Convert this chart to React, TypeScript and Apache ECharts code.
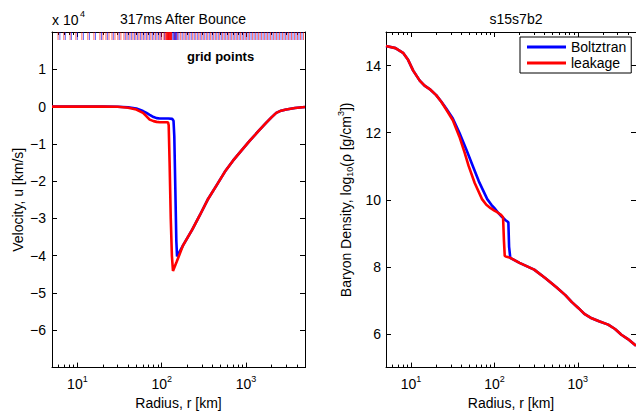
import React, { useEffect, useRef } from "react";
import * as echarts from "echarts";

const FONT = "'Liberation Sans', Arial, Helvetica, sans-serif";

// ---------- data ----------
// Left panel: velocity (units of 10^4 km/s) vs radius (km)
const velRadiusBlue = [5, 10, 20, 30, 40, 50, 60, 66, 72, 80, 87, 95, 105, 120, 133, 138, 141, 145, 149, 152, 165, 179, 230, 282, 350, 445, 560, 700, 880, 1102, 1400, 1738, 2000, 2280, 2600, 2997, 3800, 5000];
const velBlue = [0, 0, 0, -0.005, -0.02, -0.05, -0.12, -0.17, -0.22, -0.28, -0.31, -0.32, -0.32, -0.32, -0.33, -0.38, -0.8, -2.2, -3.6, -4.02, -3.87, -3.72, -3.3, -2.92, -2.5, -2.12, -1.75, -1.45, -1.18, -0.92, -0.66, -0.43, -0.29, -0.17, -0.11, -0.08, -0.04, -0.01];
const velRadiusRed = [5, 10, 20, 30, 40, 50, 60, 66, 72, 80, 87, 95, 105, 115, 119, 121, 124, 128, 132, 136, 150, 165, 179, 230, 282, 350, 445, 560, 700, 880, 1102, 1400, 1738, 2000, 2280, 2600, 2997, 3800, 5000];
const velRed = [0, 0, 0, -0.005, -0.03, -0.08, -0.17, -0.26, -0.35, -0.39, -0.41, -0.42, -0.42, -0.42, -0.43, -0.5, -1.5, -3.0, -4.0, -4.41, -4.17, -3.93, -3.72, -3.3, -2.92, -2.5, -2.12, -1.75, -1.45, -1.18, -0.92, -0.66, -0.43, -0.29, -0.17, -0.11, -0.08, -0.04, -0.01];

// grid point radii (km)
const gridPointsBlue = [6.2, 7.2, 8.5, 10.0, 11.8, 13.9, 16.4, 19.3, 22.7, 26.7, 31.4, 37, 40, 43.6, 47.4, 51.4, 55.8, 60.5, 65.7, 71.3, 77.4, 84, 91, 98, 108, 120, 132, 136, 139, 141, 143, 145, 147, 149, 152, 160, 175, 190, 206, 224, 243, 264, 286, 310, 337, 366, 397, 431, 468, 508, 550, 597, 648, 703, 763, 828, 899, 975, 1058, 1148, 1246, 1352, 1467, 1592, 1727, 1874, 2034, 2207, 2394, 2598, 2820, 3060, 3320, 3600, 3910, 4240, 4600];
const gridPointsRed = [5.9, 6.9, 8.2, 9.6, 11.3, 13.3, 15.7, 18.5, 20.1, 21.8, 23.7, 25.7, 27.9, 30.2, 32.8, 35.6, 38.6, 41.9, 45.5, 49.3, 53.6, 58.1, 63.1, 68.4, 74.3, 80.6, 87.5, 94.9, 100, 106, 110, 112, 114, 115, 116, 117, 118, 119, 120, 121, 122, 123, 124, 125, 126, 127, 128, 129, 130, 131, 143, 155, 168, 183, 198, 215, 233, 253, 275, 298, 323, 351, 381, 413, 449, 487, 528, 573, 622, 675, 733, 795, 863, 936, 1016, 1102, 1196, 1298, 1409, 1528, 1660, 1800, 1954, 2120, 2300, 2495, 2710, 2940, 3190, 3460, 3760, 4075, 4425, 4800];

// Right panel: log10 density vs radius (km)
const denRadiusBlue = [5, 6.5, 8, 9.2, 10.6, 12.7, 14.5, 16.7, 20, 23, 26.4, 31.7, 38, 46, 55, 65, 82, 92, 100, 112, 122, 135, 147, 150, 155, 200, 300, 410, 550, 710, 850, 1023, 1200, 1470, 1800, 2320, 2800, 3340, 4000, 5000];
const denBlue = [14.58, 14.52, 14.38, 14.17, 13.85, 13.55, 13.4, 13.3, 13.12, 12.93, 12.72, 12.42, 12.0, 11.5, 11.01, 10.55, 10.02, 9.85, 9.75, 9.6, 9.5, 9.4, 9.33, 8.6, 8.27, 8.12, 7.92, 7.66, 7.4, 7.16, 6.95, 6.77, 6.6, 6.47, 6.38, 6.28, 6.15, 5.98, 5.85, 5.65];
const denRadiusRed = [5, 6.5, 8, 9.2, 10.6, 12.7, 14.5, 16.7, 20, 23, 26.4, 31.7, 38, 44, 49, 58, 71, 80, 90, 100, 108, 120, 127, 130, 133, 140, 155, 200, 300, 410, 550, 710, 850, 1023, 1200, 1470, 1800, 2320, 2800, 3340, 4000, 5000];
const denRed = [14.58, 14.52, 14.38, 14.17, 13.85, 13.55, 13.4, 13.3, 13.12, 12.92, 12.69, 12.37, 11.88, 11.4, 11.01, 10.5, 10.02, 9.85, 9.75, 9.68, 9.63, 9.55, 9.48, 8.8, 8.33, 8.3, 8.27, 8.12, 7.92, 7.66, 7.4, 7.16, 6.95, 6.77, 6.6, 6.47, 6.38, 6.28, 6.15, 5.98, 5.85, 5.65];

// axis ticks
const xMajorTicks = [10, 100, 1000];
const xMinorTicks = [6, 7, 8, 9, 20, 30, 40, 50, 60, 70, 80, 90, 200, 300, 400, 500, 600, 700, 800, 900, 2000, 3000, 4000];
const densityTicks = [6, 8, 10, 12, 14];
const seriesNames = ["Boltztran", "leakage"];

const BLUE = "#0000ff";
const RED = "#ff0000";

function pairs(xs: number[], ys: number[]) {
  return xs.map((x, i) => [x, ys[i]]);
}

export default function App() {
  const ref = useRef<HTMLDivElement>(null);

  useEffect(() => {
    if (!ref.current) return;
    const chart = echarts.init(ref.current, undefined, { renderer: "svg" });

    const axisLine = { show: true, onZero: false, lineStyle: { color: "#000", width: 1 } };
    const labelStyle = { color: "#000", fontSize: 14, fontFamily: FONT };
    const supRich = {
      b: { fontSize: 14, fontFamily: FONT, color: "#000" },
      s: { fontSize: 9, fontFamily: FONT, color: "#000", padding: [0, 0, 10, 0] },
    };

    const makeX = (gridIndex: number, position: string, major: boolean, labels: boolean, name?: string): any => ({
      type: "log",
      logBase: 10,
      gridIndex,
      position,
      min: 5,
      max: 5000,
      axisLine: major ? axisLine : { show: false, onZero: false },
      splitLine: { show: false },
      axisTick: {
        show: true,
        inside: true,
        length: major ? 5 : 3,
        lineStyle: { color: "#000" },
        customValues: major ? xMajorTicks : xMinorTicks,
      },
      axisLabel: labels
        ? {
            show: true,
            margin: 7,
            customValues: xMajorTicks,
            formatter: (v: number) => `{b|10}{s|${Math.round(Math.log10(v))}}`,
            rich: supRich,
          }
        : { show: false },
      name: name,
      nameLocation: "middle",
      nameGap: 26,
      nameTextStyle: labelStyle,
    });

    const xAxis = [
      makeX(0, "bottom", true, true, "Radius, r [km]"),
      makeX(0, "bottom", false, false),
      makeX(0, "top", true, false),
      makeX(0, "top", false, false),
      makeX(1, "bottom", true, true, "Radius, r [km]"),
      makeX(1, "bottom", false, false),
      makeX(1, "top", true, false),
      makeX(1, "top", false, false),
    ];

    const yAxis: any[] = [
      {
        type: "value",
        gridIndex: 0,
        position: "left",
        min: -7,
        max: 2,
        interval: 1,
        axisLine,
        splitLine: { show: false },
        axisTick: { show: true, inside: true, length: 5, lineStyle: { color: "#000" } },
        axisLabel: {
          ...labelStyle,
          margin: 6,
          formatter: (v: number) => (v === -7 || v === 2 ? "" : v < 0 ? "\u2212" + Math.abs(v) : String(v)),
        },
        name: "Velocity, u [km/s]",
        nameLocation: "middle",
        nameGap: 27,
        nameTextStyle: labelStyle,
      },
      {
        type: "value",
        gridIndex: 0,
        position: "right",
        min: -7,
        max: 2,
        interval: 1,
        axisLine,
        splitLine: { show: false },
        axisTick: { show: true, inside: true, length: 5, lineStyle: { color: "#000" } },
        axisLabel: { show: false },
      },
      {
        type: "value",
        gridIndex: 1,
        position: "left",
        min: 5,
        max: 15,
        axisLine,
        splitLine: { show: false },
        axisTick: { show: true, inside: true, length: 5, lineStyle: { color: "#000" }, customValues: densityTicks },
        axisLabel: { ...labelStyle, margin: 5, customValues: densityTicks },
        name: "Baryon Density, log{sub|10}(\u03c1 [g/cm{sup|3}])",
        nameLocation: "middle",
        nameGap: 31,
        nameTextStyle: {
          ...labelStyle,
          rich: {
            sub: { fontSize: 9, fontFamily: FONT, color: "#000", padding: [8, 0, 0, 0] },
            sup: { fontSize: 9, fontFamily: FONT, color: "#000", padding: [0, 0, 10, 0] },
          },
        },
      },
      {
        type: "value",
        gridIndex: 1,
        position: "right",
        min: 5,
        max: 15,
        axisLine,
        splitLine: { show: false },
        axisTick: { show: true, inside: true, length: 5, lineStyle: { color: "#000" }, customValues: densityTicks },
        axisLabel: { show: false },
      },
    ];

    const lineSeries = (name: string, color: string, xi: number, yi: number, data: number[][]) => ({
      type: "line",
      name,
      xAxisIndex: xi,
      yAxisIndex: yi,
      data,
      showSymbol: false,
      symbol: "none",
      lineStyle: { color, width: 2.6 },
      itemStyle: { color },
      z: color === RED ? 4 : 3,
    });

    const gridMarks = (name: string, color: string, radii: number[]) => ({
      type: "scatter",
      name,
      xAxisIndex: 0,
      yAxisIndex: 0,
      data: radii.map((r) => [r, 2]),
      symbol: "rect",
      symbolSize: [1, 8],
      symbolOffset: [0, 4],
      itemStyle: { color, opacity: 0.6 },
      silent: true,
      clip: false,
      z: 2,
    });

    chart.setOption({
      animation: false,
      backgroundColor: "#fff",
      textStyle: { fontFamily: FONT },
      title: [
        { text: "317ms After Bounce", left: 178, top: 7, textAlign: "center", textStyle: { fontSize: 14, fontWeight: "normal", color: "#000", fontFamily: FONT } },
        { text: "s15s7b2", left: 511, top: 7, textAlign: "center", textStyle: { fontSize: 14, fontWeight: "normal", color: "#000", fontFamily: FONT } },
      ],
      grid: [
        { left: 52, top: 32, width: 253, height: 338 },
        { left: 386, top: 32, width: 252, height: 338 },
      ],
      legend: {
        data: seriesNames,
        left: 520,
        top: 37,
        orient: "vertical",
        icon: "rect",
        itemWidth: 39,
        itemHeight: 3,
        itemGap: 2,
        padding: [3, 5, 3, 7],
        borderColor: "#000",
        borderWidth: 1,
        backgroundColor: "#fff",
        textStyle: { fontSize: 14, color: "#000", fontFamily: FONT },
        selectedMode: false,
      },
      xAxis,
      yAxis,
      graphic: [
        { type: "text", left: 52, top: 13, style: { text: "x 10", font: `14px ${FONT}`, fill: "#000" } },
        { type: "text", left: 80, top: 9, style: { text: "4", font: `9px ${FONT}`, fill: "#000" } },
        { type: "text", left: 187, top: 50, style: { text: "grid points", font: `bold 13px ${FONT}`, fill: "#000" } },
      ],
      series: [
        gridMarks("gridBlue", BLUE, gridPointsBlue),
        gridMarks("gridRed", RED, gridPointsRed),
        lineSeries(seriesNames[0], BLUE, 0, 0, pairs(velRadiusBlue, velBlue)),
        lineSeries(seriesNames[1], RED, 0, 0, pairs(velRadiusRed, velRed)),
        lineSeries(seriesNames[0], BLUE, 4, 2, pairs(denRadiusBlue, denBlue)),
        lineSeries(seriesNames[1], RED, 4, 2, pairs(denRadiusRed, denRed)),
      ],
    });

    return () => chart.dispose();
  }, []);

  return <div ref={ref} style={{ position: "fixed", left: 0, top: 0, width: 636, height: 415, background: "#fff" }} />;
}
